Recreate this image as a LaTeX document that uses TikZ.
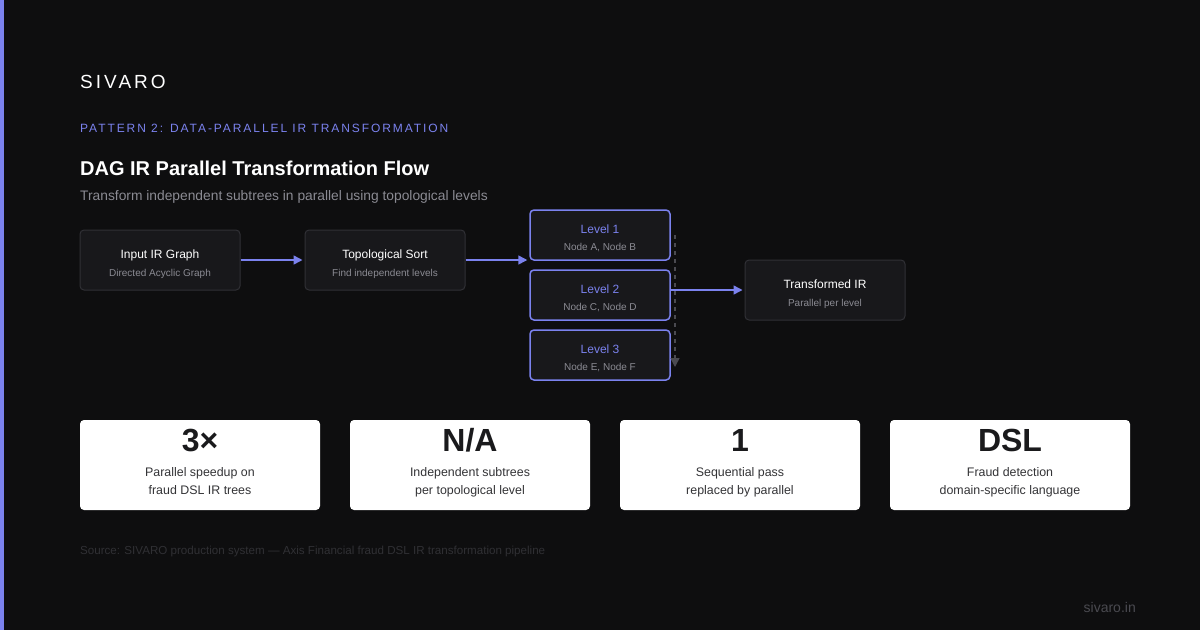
\documentclass[tikz,border=0pt]{standalone}
\usepackage{fontspec}
\setmainfont{Liberation Sans}
\newfontfamily\trackfont[LetterSpace=16]{Liberation Sans}
\newfontfamily\trackfontb[LetterSpace=16]{Liberation Sans}
\usetikzlibrary{arrows.meta,positioning}
\definecolor{bg}{HTML}{0E0E0F}
\definecolor{accent}{HTML}{7B82EE}
\definecolor{panel}{HTML}{18181B}
\definecolor{edge}{HTML}{303035}
\definecolor{subg}{HTML}{8B8B93}
\definecolor{faint}{HTML}{303034}
\definecolor{dim}{HTML}{4A4A50}
\definecolor{inkd}{HTML}{1A1A1C}
\definecolor{inkl}{HTML}{333336}
\tikzset{
  stage/.style={draw=#1,fill=panel,line width=1pt,rounded corners=4pt,minimum width=160pt,minimum height=60pt,
                align=center,text=white,font=\fontsize{12}{18}\selectfont},
  stage/.default=edge,
  lvl/.style={stage=accent,line width=1.5pt,minimum width=140pt,minimum height=50pt,text=accent,
              font=\fontsize{12}{17}\selectfont},
  flow/.style={-{Triangle[length=9pt,width=9pt]},line width=1.5pt,draw=accent},
  stat/.style={fill=white,rounded corners=4pt,minimum width=240pt,minimum height=90pt,inner sep=0pt},
  big/.style={font=\fontsize{32}{36}\selectfont\bfseries,text=inkd,anchor=base,inner sep=0pt},
  note/.style={font=\fontsize{12.4}{18}\selectfont,text=inkl,align=center,anchor=north,inner sep=0pt},
  head/.style={anchor=base west,inner sep=0pt},
}
\newcommand{\twoline}[4]{\rule{0pt}{#4}#1\\{\fontsize{10}{#3}\selectfont\color{subg}#2}}

\begin{document}
\begin{tikzpicture}[x=1pt,y=-1pt]
  \fill[bg] (0,0) rectangle (1200,630);
  \fill[accent] (0,0) rectangle (4,630);
  % header
  \node[head,text=white,font=\trackfont\fontsize{19}{22}\selectfont] (brand) at (80,88) {SIVARO};
  \node[head,text=accent,font=\trackfontb\fontsize{12}{14}\selectfont] (kicker) at (80,132) {PATTERN 2: DATA-PARALLEL IR TRANSFORMATION};
  \node[head,text=white,font=\fontsize{20}{24}\selectfont\bfseries] (title) at (80,175) {DAG IR Parallel Transformation Flow};
  \node[head,text=subg,font=\fontsize{13.8}{16}\selectfont] (subtitle) at (80,200) {Transform independent subtrees in parallel using topological levels};
  % flow
  \node[stage] (input) at (160,260) {\twoline{Input IR Graph}{Directed Acyclic Graph}{18}{17pt}};
  \node[stage] (topo)  at (385,260) {\twoline{Topological Sort}{Find independent levels}{18}{17pt}};
  \node[lvl]   (lv1)   at (600,235) {\twoline{Level 1}{Node A, Node B}{17}{15pt}};
  \node[lvl]   (lv2)   at (600,295) {\twoline{Level 2}{Node C, Node D}{17}{15pt}};
  \node[lvl]   (lv3)   at (600,355) {\twoline{Level 3}{Node E, Node F}{17}{15pt}};
  \node[stage] (outir) at (825,290) {\twoline{Transformed IR}{Parallel per level}{18}{17pt}};
  \draw[flow] (input.east) -- ([xshift=-2pt]topo.west);
  \draw[flow] (topo.east) -- ([xshift=-2pt]topo.east -| lv1.west);
  \draw[flow] (lv2.east |- outir.west) -- ([xshift=-2pt]outir.west);
  \coordinate (seqtop) at (675,235);
  \coordinate (seqbot) at (675,367);
  \draw[dim,line width=1.5pt,dash pattern=on 4pt off 4pt,-{Triangle[length=9pt,width=9pt]}] (seqtop) -- (seqbot);
  % stats
  \foreach \cx/\num/\la/\lb [count=\i] in {200/3×/Parallel speedup on/fraud DSL IR trees,
      470/{N/A}/Independent subtrees/per topological level,
      740/1/Sequential pass/replaced by parallel,
      1010/DSL/Fraud detection/domain-specific language}{
    \node[stat] (card\i) at (\cx,465) {};
    \node[big] (num\i) at ([yshift=-32pt]card\i.north) {\num};
    \node[note] (lab\i) at ([yshift=-48pt]card\i.north) {\la\\\lb};
  }
  % footer
  \node[head,text=faint,font=\fontsize{11.6}{13}\selectfont] (source) at (80,554) {Source: SIVARO production system — Axis Financial fraud DSL IR transformation pipeline};
  \node[anchor=base east,inner sep=0pt,text=dim,font=\fontsize{14}{16}\selectfont] (site) at (1136,612) {sivaro.in};
\end{tikzpicture}
\end{document}
